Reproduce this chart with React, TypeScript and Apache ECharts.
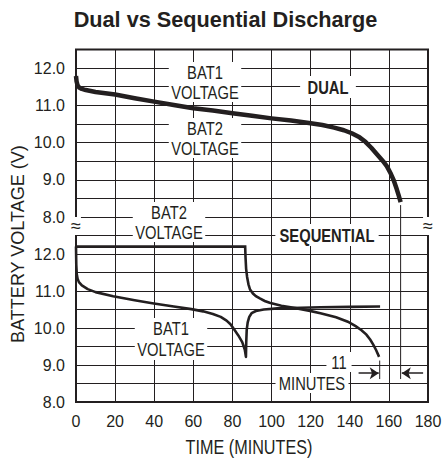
import React, { useEffect, useRef } from 'react';
import * as echarts from 'echarts';

// ---------- data ----------
const xRange = [0, 180];
const xStep = 20;
const topYRange = [8, 12.5];
const bottomYRange = [8, 13];
const yStep = 0.5;

// DUAL discharge (top panel) [minutes, volts]
const dualCurve: number[][] = [
  [0, 11.79], [0.3, 11.64], [0.8, 11.54], [1.6, 11.48], [3, 11.44], [5, 11.41],
  [10, 11.36], [20, 11.29], [30, 11.19], [40, 11.1], [50, 11.01], [60, 10.92],
  [70, 10.86], [80, 10.79], [90, 10.72], [100, 10.65], [110, 10.59], [120, 10.52],
  [126, 10.47], [132, 10.4], [137, 10.33], [141, 10.25], [145, 10.14], [148, 10.02],
  [151, 9.86], [154, 9.68], [157, 9.5], [159, 9.36], [161, 9.16], [162.5, 8.98],
  [164, 8.75], [165, 8.58], [166, 8.4],
];

// SEQUENTIAL discharge (bottom panel)
const seqBat1: number[][] = [
  [0, 12.2], [0.15, 11.7], [0.4, 11.45], [0.8, 11.33], [1.5, 11.24], [3, 11.15],
  [6, 11.05], [10, 10.97], [19, 10.86], [30, 10.75], [39, 10.67], [50, 10.58],
  [59, 10.51], [65, 10.45], [70, 10.38], [74, 10.3], [77, 10.2], [79, 10.1],
  [81, 9.95], [83, 9.8], [85, 9.62], [86.3, 9.42], [86.9, 9.22],
  [87.05, 9.6], [87.3, 9.95], [87.8, 10.15], [88.6, 10.3], [89.8, 10.4],
  [92, 10.46], [96, 10.5], [103, 10.53], [110, 10.54], [125, 10.56], [140, 10.57],
  [155.5, 10.58],
];

const seqBat2: number[][] = [
  [0, 12.2], [86.5, 12.2], [86.7, 11.9], [87, 11.6], [87.5, 11.38], [88.2, 11.18],
  [89, 11.04], [90.5, 10.93], [92, 10.86], [94, 10.8], [96.5, 10.73], [99, 10.68],
  [105, 10.6], [113, 10.53], [119, 10.47], [125, 10.4], [133, 10.29], [139, 10.17],
  [143, 10.05], [146, 9.94], [148.5, 9.82], [150.5, 9.68], [152, 9.55], [153.5, 9.4],
  [155, 9.22],
];

// "11 MINUTES" annotation
const dualEndMarkTop: number[][] = [[166, 8.32], [166, 8]];
const dualEndMarkBottom: number[][] = [[166, 13], [166, 8.62]];
const seqEndMark: number[][] = [[155.3, 9.12], [155.3, 8.62]];
const arrowRight: number[][] = [[144.5, 8.78], [154.8, 8.78]];
const arrowLeft: number[][] = [[177.5, 8.78], [166.6, 8.78]];

const INK = '#231f20';
const FONT = '"Liberation Sans", Arial, sans-serif';
const NARROW_SCALE = 0.82;

function label(text: string, x: number, y: number, bold: boolean, pad: number[], lineHeight = 20) {
  return {
    type: 'text',
    x,
    y,
    z: 1,
    scaleX: NARROW_SCALE,
    silent: true,
    style: {
      text,
      fill: INK,
      fontFamily: FONT,
      fontSize: 18,
      fontWeight: bold ? 'bold' : 'normal',
      align: 'center',
      verticalAlign: 'middle',
      lineHeight,
      backgroundColor: '#fff',
      padding: pad,
    },
  };
}

export default function App() {
  const ref = useRef<HTMLDivElement>(null);

  useEffect(() => {
    if (!ref.current) return;
    const chart = echarts.init(ref.current, undefined, { renderer: 'svg' });

    const split = { show: true, lineStyle: { color: INK, width: 1 } };
    const xBase = {
      type: 'value',
      min: xRange[0],
      max: xRange[1],
      interval: xStep,
      axisLine: { show: false },
      axisTick: { show: false },
      splitLine: split,
    };
    const yLabel = (maxShown: number) => ({
      show: true,
      margin: 11,
      color: INK,
      fontFamily: FONT,
      fontSize: 16,
      formatter: (v: number) =>
        Math.abs(v - Math.round(v)) < 1e-6 && v <= maxShown ? v.toFixed(1) : '',
    });

    const thin = { color: INK, width: 1 };

    chart.setOption({
      animation: false,
      backgroundColor: '#fff',
      grid: [
        { left: 76, top: 49.5, width: 352, height: 167.5 },
        { left: 76, top: 217, width: 352, height: 185 },
      ],
      xAxis: [
        { ...xBase, gridIndex: 0, axisLabel: { show: false } },
        {
          ...xBase,
          gridIndex: 1,
          axisLabel: { show: true, margin: 11, color: INK, fontFamily: FONT, fontSize: 16 },
        },
      ],
      yAxis: [
        {
          type: 'value', gridIndex: 0, min: topYRange[0], max: topYRange[1], interval: yStep,
          axisLine: { show: false }, axisTick: { show: false }, splitLine: split,
          axisLabel: yLabel(12),
        },
        {
          type: 'value', gridIndex: 1, min: bottomYRange[0], max: bottomYRange[1], interval: yStep,
          axisLine: { show: false }, axisTick: { show: false }, splitLine: split,
          axisLabel: yLabel(12),
        },
      ],
      series: [
        {
          type: 'line', xAxisIndex: 0, yAxisIndex: 0, data: dualCurve, showSymbol: false,
          lineStyle: { color: INK, width: 4.5, cap: 'butt', join: 'round' }, silent: true,
        },
        {
          type: 'line', xAxisIndex: 1, yAxisIndex: 1, data: seqBat2, showSymbol: false,
          lineStyle: { color: INK, width: 2.6, join: 'miter' }, silent: true,
        },
        {
          type: 'line', xAxisIndex: 1, yAxisIndex: 1, data: seqBat1, showSymbol: false,
          lineStyle: { color: INK, width: 2.6, join: 'round' }, silent: true,
        },
        {
          type: 'line', xAxisIndex: 0, yAxisIndex: 0, data: dualEndMarkTop, showSymbol: false,
          lineStyle: thin, silent: true,
        },
        {
          type: 'line', xAxisIndex: 1, yAxisIndex: 1, data: dualEndMarkBottom, showSymbol: false,
          lineStyle: thin, silent: true,
        },
        {
          type: 'line', xAxisIndex: 1, yAxisIndex: 1, data: seqEndMark, showSymbol: false,
          lineStyle: thin, silent: true,
          markLine: {
            silent: true,
            symbol: ['none', 'arrow'],
            symbolSize: 9,
            label: { show: false },
            lineStyle: { color: INK, width: 1.5, type: 'solid' },
            data: [
              [{ coord: arrowRight[0] }, { coord: arrowRight[1] }],
              [{ coord: arrowLeft[0] }, { coord: arrowLeft[1] }],
            ],
          },
        },
      ],
      graphic: [
        {
          type: 'text', x: 225.5, y: 19, silent: true,
          style: {
            text: 'Dual vs Sequential Discharge', fill: INK, fontFamily: FONT,
            fontSize: 21.7, fontWeight: 'bold', align: 'center', verticalAlign: 'middle',
          },
        },
        {
          type: 'text', x: 17, y: 244, rotation: Math.PI / 2, silent: true,
          scaleX: 0.95,
          style: {
            text: 'BATTERY VOLTAGE (V)', fill: INK, fontFamily: FONT, fontSize: 19,
            align: 'center', verticalAlign: 'middle',
          },
        },
        {
          type: 'text', x: 249, y: 447, silent: true, scaleX: 0.81,
          style: {
            text: 'TIME (MINUTES)', fill: INK, fontFamily: FONT, fontSize: 20,
            align: 'center', verticalAlign: 'middle',
          },
        },
        label('BAT1\nVOLTAGE', 205, 82, false, [0, 3]),
        label('BAT2\nVOLTAGE', 205, 138, false, [0, 3]),
        label('DUAL', 328, 87, true, [1, 9]),
        label('BAT2\nVOLTAGE', 169, 222, false, [0, 3]),
        label('SEQUENTIAL', 327, 235, true, [1, 5]),
        label('BAT1\nVOLTAGE', 171, 339, false, [0, 3], 21),
        label('11', 339, 362, false, [0, 6]),
        label('MINUTES', 312, 383, false, [0, 4]),
        {
          type: 'rect', z: 3, silent: true,
          shape: { x: 76, y: 49.5, width: 352, height: 352.5 },
          style: { fill: 'none', stroke: INK, lineWidth: 2 },
        },
        {
          type: 'text', x: 76, y: 226, z: 4, silent: true,
          style: {
            text: '\u2248', fill: INK, fontFamily: FONT, fontSize: 18,
            align: 'center', verticalAlign: 'middle', backgroundColor: '#fff', padding: [0, 0],
          },
        },
        {
          type: 'text', x: 428, y: 226, z: 4, silent: true,
          style: {
            text: '\u2248', fill: INK, fontFamily: FONT, fontSize: 18,
            align: 'center', verticalAlign: 'middle', backgroundColor: '#fff', padding: [0, 0],
          },
        },
      ],
    });

    return () => chart.dispose();
  }, []);

  return (
    <div
      ref={ref}
      style={{ position: 'fixed', left: 0, top: 0, width: 445, height: 459, background: '#fff' }}
    />
  );
}
